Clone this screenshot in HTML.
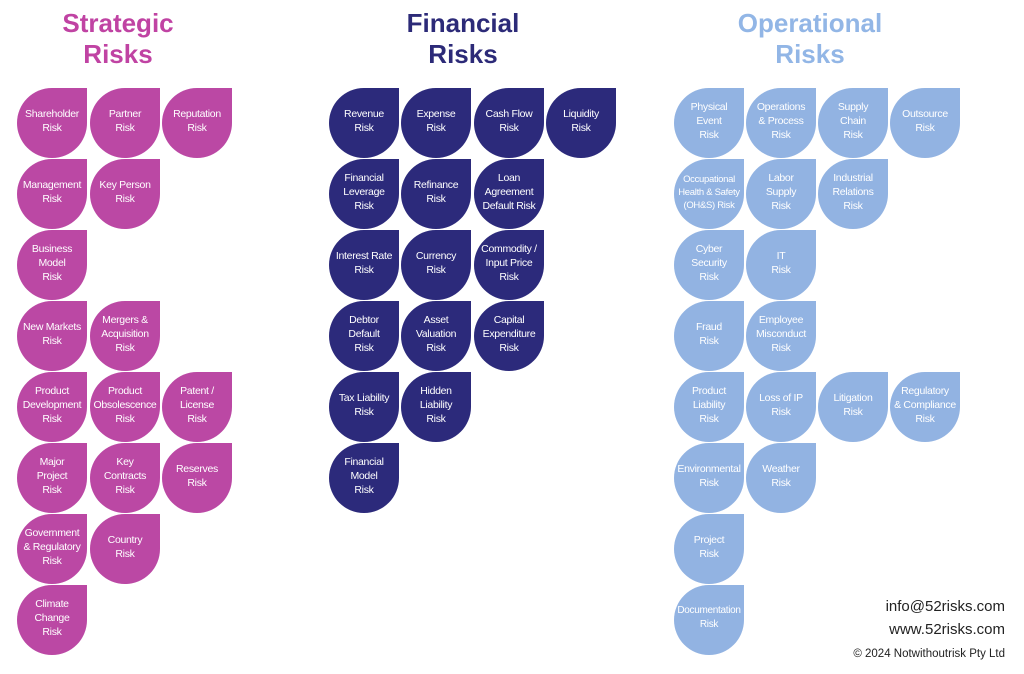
<!DOCTYPE html>
<html><head><meta charset="utf-8"><style>
body{margin:0;width:1024px;height:674px;background:#fff;position:relative;overflow:hidden;font-family:"Liberation Sans",sans-serif}
.t{position:absolute;font-weight:bold;font-size:26px;line-height:31px;text-align:center;width:240px}
.b{position:absolute;width:70px;height:70px;border-radius:35px 0 35px 35px;color:#fff;font-size:10.5px;line-height:14px;letter-spacing:-0.3px;display:flex;align-items:center;justify-content:center;text-align:center;box-sizing:border-box;padding-bottom:4px}
.s{background:#bb48a4}.f{background:#2c2a7b}.o{background:#92b3e2}
.ft{position:absolute;right:19px;text-align:right;color:#222}
</style></head><body>
<div class="t" style="left:-2px;top:8px;color:#c043a3">Strategic<br>Risks</div>
<div class="t" style="left:343px;top:8px;color:#2c2a78">Financial<br>Risks</div>
<div class="t" style="left:690px;top:8px;color:#92b6e6">Operational<br>Risks</div>

<div class="b s" style="left:17px;top:88px">Shareholder<br>Risk</div>
<div class="b s" style="left:90px;top:88px">Partner<br>Risk</div>
<div class="b s" style="left:162px;top:88px">Reputation<br>Risk</div>
<div class="b s" style="left:17px;top:159px">Management<br>Risk</div>
<div class="b s" style="left:90px;top:159px">Key Person<br>Risk</div>
<div class="b s" style="left:17px;top:230px">Business<br>Model<br>Risk</div>
<div class="b s" style="left:17px;top:301px">New Markets<br>Risk</div>
<div class="b s" style="left:90px;top:301px">Mergers &amp;<br>Acquisition<br>Risk</div>
<div class="b s" style="left:17px;top:372px">Product<br>Development<br>Risk</div>
<div class="b s" style="left:90px;top:372px">Product<br>Obsolescence<br>Risk</div>
<div class="b s" style="left:162px;top:372px">Patent /<br>License<br>Risk</div>
<div class="b s" style="left:17px;top:443px">Major<br>Project<br>Risk</div>
<div class="b s" style="left:90px;top:443px">Key<br>Contracts<br>Risk</div>
<div class="b s" style="left:162px;top:443px">Reserves<br>Risk</div>
<div class="b s" style="left:17px;top:514px">Government<br>&amp; Regulatory<br>Risk</div>
<div class="b s" style="left:90px;top:514px">Country<br>Risk</div>
<div class="b s" style="left:17px;top:585px">Climate<br>Change<br>Risk</div>

<div class="b f" style="left:329px;top:88px">Revenue<br>Risk</div>
<div class="b f" style="left:401px;top:88px">Expense<br>Risk</div>
<div class="b f" style="left:474px;top:88px">Cash Flow<br>Risk</div>
<div class="b f" style="left:546px;top:88px">Liquidity<br>Risk</div>
<div class="b f" style="left:329px;top:159px">Financial<br>Leverage<br>Risk</div>
<div class="b f" style="left:401px;top:159px">Refinance<br>Risk</div>
<div class="b f" style="left:474px;top:159px">Loan<br>Agreement<br>Default Risk</div>
<div class="b f" style="left:329px;top:230px">Interest Rate<br>Risk</div>
<div class="b f" style="left:401px;top:230px">Currency<br>Risk</div>
<div class="b f" style="left:474px;top:230px">Commodity /<br>Input Price<br>Risk</div>
<div class="b f" style="left:329px;top:301px">Debtor<br>Default<br>Risk</div>
<div class="b f" style="left:401px;top:301px">Asset<br>Valuation<br>Risk</div>
<div class="b f" style="left:474px;top:301px">Capital<br>Expenditure<br>Risk</div>
<div class="b f" style="left:329px;top:372px">Tax Liability<br>Risk</div>
<div class="b f" style="left:401px;top:372px">Hidden<br>Liability<br>Risk</div>
<div class="b f" style="left:329px;top:443px">Financial<br>Model<br>Risk</div>

<div class="b o" style="left:674px;top:88px">Physical<br>Event<br>Risk</div>
<div class="b o" style="left:746px;top:88px">Operations<br>&amp; Process<br>Risk</div>
<div class="b o" style="left:818px;top:88px">Supply<br>Chain<br>Risk</div>
<div class="b o" style="left:890px;top:88px">Outsource<br>Risk</div>
<div class="b o" style="left:674px;top:159px;font-size:9.5px;line-height:13px">Occupational<br>Health &amp; Safety<br>(OH&amp;S) Risk</div>
<div class="b o" style="left:746px;top:159px">Labor<br>Supply<br>Risk</div>
<div class="b o" style="left:818px;top:159px">Industrial<br>Relations<br>Risk</div>
<div class="b o" style="left:674px;top:230px">Cyber<br>Security<br>Risk</div>
<div class="b o" style="left:746px;top:230px">IT<br>Risk</div>
<div class="b o" style="left:674px;top:301px">Fraud<br>Risk</div>
<div class="b o" style="left:746px;top:301px">Employee<br>Misconduct<br>Risk</div>
<div class="b o" style="left:674px;top:372px">Product<br>Liability<br>Risk</div>
<div class="b o" style="left:746px;top:372px">Loss of IP<br>Risk</div>
<div class="b o" style="left:818px;top:372px">Litigation<br>Risk</div>
<div class="b o" style="left:890px;top:372px">Regulatory<br>&amp; Compliance<br>Risk</div>
<div class="b o" style="left:674px;top:443px">Environmental<br>Risk</div>
<div class="b o" style="left:746px;top:443px">Weather<br>Risk</div>
<div class="b o" style="left:674px;top:514px">Project<br>Risk</div>
<div class="b o" style="left:674px;top:585px;font-size:10px">Documentation<br>Risk</div>

<div class="ft" style="top:598px;font-size:15px">info@52risks.com</div>
<div class="ft" style="top:621px;font-size:15px">www.52risks.com</div>
<div class="ft" style="top:648px;font-size:11.5px">© 2024 Notwithoutrisk Pty Ltd</div>
</body></html>
